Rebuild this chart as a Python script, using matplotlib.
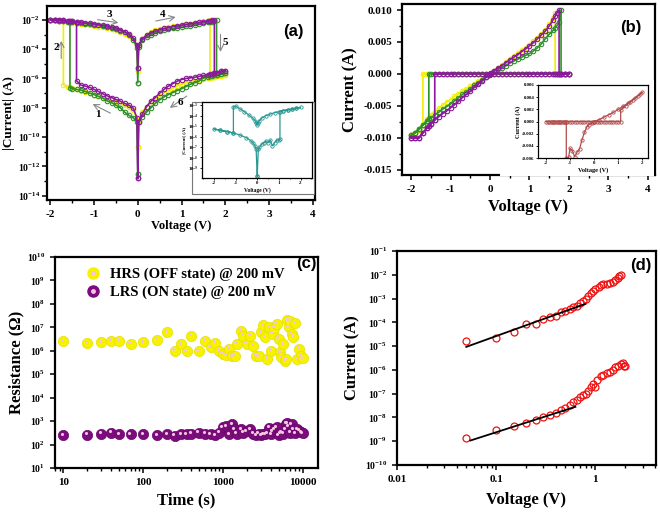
import numpy as np
import matplotlib
matplotlib.use('Agg')
import matplotlib.pyplot as plt
from matplotlib.ticker import FuncFormatter, FixedLocator, MultipleLocator, NullFormatter, LogLocator
from matplotlib.lines import Line2D
from matplotlib.patches import Rectangle
from matplotlib.transforms import offset_copy

plt.rcParams['font.family'] = ['Liberation Serif', 'DejaVu Serif']
plt.rcParams['font.weight'] = 'bold'
plt.rcParams['axes.labelweight'] = 'bold'
plt.rcParams['axes.unicode_minus'] = False
plt.rcParams['mathtext.fontset'] = 'custom'
plt.rcParams['mathtext.rm'] = 'Liberation Serif:bold'
plt.rcParams['mathtext.bf'] = 'Liberation Serif:bold'
plt.rcParams['mathtext.it'] = 'Liberation Serif:bold:italic'
plt.rcParams['axes.linewidth'] = 1.6

# ---- (a)/(b) I-V sweeps, |I| in A on shared voltage grids ----
V_NEG = [0, -0.02, -0.1, -0.2, -0.3, -0.4, -0.5, -0.6, -0.7, -0.8, -0.9, -1.0,
         -1.1, -1.2, -1.3, -1.4, -1.5, -1.55, -1.6, -1.7, -1.8, -1.9, -2.0]
V_POS = [0, 0.02, 0.1, 0.2, 0.3, 0.4, 0.5, 0.6, 0.7, 0.8, 0.9, 1.0,
         1.1, 1.2, 1.3, 1.4, 1.5, 1.6, 1.65, 1.7, 1.75, 1.8, 1.9, 2.0]

# yellow curve (set -1.7 V, reset 1.65 V)
y_hrs_neg = [2e-11, 2e-9, 7e-9, 1.1e-8, 1.5e-8, 2e-8, 2.5e-8, 3.2e-8, 4e-8, 5e-8, 6e-8, 8e-8,
             1e-7, 1.2e-7, 1.5e-7, 1.8e-7, 2.2e-7, 2.5e-7, 2.8e-7, 3.5e-7]
y_lrs_neg = [3e-6, 1.5e-4, 4e-4, 7.5e-4, 1.1e-3, 1.5e-3, 1.9e-3, 2.3e-3, 2.7e-3, 3.1e-3, 3.5e-3, 4e-3,
             4.4e-3, 4.9e-3, 5.4e-3, 5.9e-3, 6.4e-3, 6.7e-3, 7.1e-3, 8e-3, 8.8e-3, 9.3e-3, 9.6e-3]
y_lrs_pos = [3e-6, 1.8e-4, 5e-4, 9.5e-4, 1.4e-3, 1.9e-3, 2.4e-3, 2.8e-3, 3.3e-3, 3.7e-3, 4.1e-3, 4.6e-3,
             5.1e-3, 5.6e-3, 6.2e-3, 6.9e-3, 7.8e-3, 8.8e-3, 9.5e-3]
y_hrs_pos = [2e-11, 1.5e-9, 5e-9, 1.2e-8, 2.2e-8, 4e-8, 6.5e-8, 1e-7, 1.5e-7, 2.2e-7, 3e-7, 4e-7,
             5e-7, 6e-7, 7e-7, 8e-7, 9e-7, 1e-6, 1.1e-6, 1.2e-6, 1.3e-6, 1.4e-6, 1.5e-6, 1.6e-6]

# green curve (set -1.55 V, reset 1.8 V)
g_hrs_neg = [3e-13, 1e-9, 2e-9, 3e-9, 5e-9, 1e-8, 1.5e-8, 2.2e-8, 3e-8, 4.5e-8, 6e-8, 8e-8,
             1e-7, 1.3e-7, 1.6e-7, 1.8e-7, 2e-7, 2.2e-7]
g_lrs_neg = [5e-7, 1.2e-4, 4.5e-4, 9e-4, 1.4e-3, 1.8e-3, 2.3e-3, 2.8e-3, 3.2e-3, 3.7e-3, 4.2e-3, 4.7e-3,
             5.1e-3, 5.5e-3, 6e-3, 6.4e-3, 6.9e-3, 7.1e-3, 7.4e-3, 8e-3, 8.6e-3, 9.2e-3, 9.6e-3]
g_lrs_pos = [5e-7, 1.5e-4, 4e-4, 7e-4, 1e-3, 1.3e-3, 1.7e-3, 2e-3, 2.3e-3, 2.6e-3, 2.9e-3, 3.2e-3,
             3.6e-3, 4.1e-3, 4.7e-3, 5.5e-3, 6.2e-3, 6.8e-3, 7.2e-3, 7.6e-3, 8.2e-3, 1e-2]
g_hrs_pos = [3e-13, 1e-9, 2.5e-9, 5e-9, 1e-8, 2e-8, 3.5e-8, 5.5e-8, 8e-8, 1.1e-7, 1.5e-7, 2e-7,
             2.8e-7, 4e-7, 5.2e-7, 6.6e-7, 1.1e-6, 1.3e-6, 1.4e-6, 1.5e-6, 1.6e-6, 1.8e-6, 2e-6, 2.3e-6]

# purple curve (set -1.4 V, reset 1.75 V)
p_hrs_neg = [1.5e-13, 2e-9, 9e-9, 1.5e-8, 2e-8, 2.8e-8, 3.7e-8, 5e-8, 6.5e-8, 9e-8, 1.3e-7, 1.8e-7,
             2.5e-7, 3e-7, 3.5e-7, 7e-7]
p_lrs_neg = [5e-6, 1.8e-4, 5.5e-4, 1.1e-3, 1.6e-3, 2.1e-3, 2.7e-3, 3.2e-3, 3.7e-3, 4.3e-3, 4.8e-3, 5.3e-3,
             5.8e-3, 6.2e-3, 6.7e-3, 7.2e-3, 7.8e-3, 8.2e-3, 8.5e-3, 9.2e-3, 1e-2, 1e-2, 1e-2]
p_lrs_pos = [5e-6, 2e-4, 5e-4, 9e-4, 1.3e-3, 1.75e-3, 2.2e-3, 2.6e-3, 3e-3, 3.5e-3, 3.9e-3, 4.4e-3,
             4.9e-3, 5.5e-3, 6.1e-3, 6.7e-3, 7.5e-3, 8.5e-3, 9e-3, 9.6e-3, 1e-2]
p_hrs_pos = [1.5e-13, 1e-9, 3.5e-9, 1.2e-8, 2.8e-8, 5e-8, 1e-7, 1.8e-7, 3e-7, 4.5e-7, 6.5e-7, 8.5e-7,
             1e-6, 1.1e-6, 1.2e-6, 1.4e-6, 1.6e-6, 1.8e-6, 1.9e-6, 2e-6, 2.2e-6, 2.5e-6, 3e-6, 3.5e-6]

CURVES = [
    ('#f0f000', y_hrs_neg, y_lrs_neg, y_lrs_pos, y_hrs_pos),
    ('#2f922a', g_hrs_neg, g_lrs_neg, g_lrs_pos, g_hrs_pos),
    ('#8a1a9a', p_hrs_neg, p_lrs_neg, p_lrs_pos, p_hrs_pos),
]

# inset (a): |I| loop of a second device
ins_a_v = [0, 0.05, 0.1, 0.2, 0.3, 0.4, 0.5, 0.6, 0.7, 0.8, 0.9, 1.0, 1.05,
           1.05, 1.2, 1.4, 1.6, 1.8, 2.0,
           1.8, 1.6, 1.4, 1.2, 1.0, 0.8, 0.6, 0.4, 0.2, 0.1, 0.05, 0,
           -0.05, -0.1, -0.2, -0.4, -0.6, -0.8, -1.0, -1.1,
           -1.1, -1.4, -1.7, -2.0,
           -1.7, -1.4, -1.1, -0.8, -0.5, -0.3, -0.2, -0.1, -0.05, 0]
ins_a_i = [1.7e-10, 6.3e-8, 9.4e-8, 1.8e-7, 2.6e-7, 3.7e-7, 2.6e-7, 4.6e-7, 1.3e-7, 2.6e-7, 4.6e-7, 4.6e-7, 5.3e-7,
           2.4e-4, 3e-4, 3.5e-4, 4.2e-4, 5e-4, 6e-4,
           5e-4, 4.2e-4, 3.5e-4, 3e-4, 2.4e-4, 1.9e-4, 1.4e-4, 1e-4, 5.7e-5, 3.4e-5, 2.2e-5, 1.3e-5,
           2.2e-5, 3.4e-5, 5.7e-5, 1.2e-4, 2.4e-4, 4.5e-4, 8e-4, 7e-4,
           2.2e-6, 3e-6, 4e-6, 5.3e-6,
           4e-6, 3e-6, 2.2e-6, 1.4e-6, 7.7e-7, 4e-7, 2.6e-7, 1.3e-7, 6.3e-8, 1.7e-10]

# inset (b): signed I loop of a third device
ins_b_v = [0, 0.1, 0.2, 0.3, 0.4, 0.5, 0.6, 0.7, 0.8, 0.9, 1.0, 1.1,
           1.1, 1.3, 1.5, 1.7, 1.9, 2.0,
           1.8, 1.6, 1.4, 1.2, 1.0, 0.8, 0.6, 0.4, 0.2, 0,
           -0.1, -0.2, -0.3, -0.4, -0.5, -0.6, -0.7, -0.8, -0.9, -1.0, -1.05, -1.15,
           -1.15, -1.25, -1.35, -1.45, -1.55, -1.65, -1.75, -1.85, -2.0,
           -1.9, -1.8, -1.7, -1.6, -1.5, -1.4, -1.3, -1.2, -1.1, -1.0, -0.9, -0.8,
           -0.7, -0.6, -0.5, -0.4, -0.3, -0.2, -0.1, 0]
ins_b_i = [0, 0, 0, 0, 0, 0, 0, 0, 0, 0, 0, 0,
           0.0019, 0.0026, 0.0032, 0.0038, 0.0045, 0.0048,
           0.0042, 0.0036, 0.0030, 0.0025, 0.0020, 0.0015, 0.0011, 0.0007, 0.0003, 0,
           -0.0002, -0.0005, -0.0009, -0.0018, -0.0030, -0.0045, -0.0050, -0.0058, -0.0048, -0.0044, -0.0059, -0.0060,
           0, 0, 0, 0, 0, 0, 0, 0, 0,
           0, 0, 0, 0, 0, 0, 0, 0, 0, 0, 0, 0,
           0, 0, 0, 0, 0, 0, 0, 0]

# ---- (c) retention ----
time_s = [10, 20, 30, 40, 50, 70, 100, 150, 200, 250, 300, 350, 400, 500, 600, 700, 800, 900,
          1000, 1100, 1200, 1300, 1400, 1500, 1700, 1800, 2000, 2200, 2400, 2600, 2800, 3000,
          3200, 3400, 3600, 3800, 4000, 4200, 4400, 4700, 5000, 5200, 5400, 5700, 6000, 6200,
          6400, 6700, 7000, 7300, 7600, 8000, 8500, 9000, 9500, 10000]
r_hrs = [2.5e6, 2.1e6, 2.3e6, 2.7e6, 2.7e6, 2.0e6, 2.3e6, 2.9e6, 6.2e6, 1.0e6, 1.9e6, 9.4e5, 4.4e6, 9.4e5,
         2.7e6, 1.4e6, 2.2e6, 1.0e6, 7.5e5, 6.5e5, 1.2e6, 5.8e5, 6.1e5, 2.0e6, 7.2e6, 4.4e6, 2.0e6, 4.4e6,
         1.6e6, 6.1e5, 5.8e5, 6.2e6, 1.2e7, 3.7e6, 4.5e5, 1.0e7, 1.0e6, 5.2e6, 9.4e6, 1.4e7, 3.2e6, 8.5e5,
         5.2e5, 1.9e6, 3.7e5, 4.4e5, 2.0e7, 1.0e7, 1.9e7, 5.2e6, 4.0e6, 1.5e7, 4.4e5, 1.2e6, 6.0e5, 4.9e5]
r_lrs = [250, 260, 290, 320, 270, 270, 270, 250, 270, 240, 270, 270, 290, 320, 290, 270, 250, 320,
         550, 600, 270, 720, 440, 290, 440, 320, 370, 440, 290, 250, 290, 250, 270, 280, 300, 520,
         270, 370, 450, 550, 250, 300, 330, 290, 440, 770, 800, 600, 320, 720, 440, 300, 450, 380,
         330, 300]

# ---- (d) log-log fits ----
d_v = [0.05, 0.1, 0.15, 0.2, 0.25, 0.3, 0.35, 0.4, 0.45, 0.5, 0.55, 0.6, 0.65, 0.7, 0.75, 0.8,
       0.85, 0.9, 0.95, 1.0, 1.1, 1.15, 1.2, 1.3, 1.4, 1.5, 1.6, 1.7, 1.75, 1.8]
d_lrs = [1.7e-5, 2.1e-5, 3.9e-5, 8.9e-5, 8.3e-5, 1.35e-4, 1.6e-4, 1.9e-4, 2.6e-4, 3e-4, 3.6e-4, 4.3e-4,
         5e-4, 6.3e-4, 8.1e-4, 1e-3, 1.3e-3, 1.65e-3, 2e-3, 2.5e-3, 3.2e-3, 3.7e-3, 4e-3, 4.1e-3, 4.4e-3,
         5e-3, 6e-3, 7.5e-3, 8.5e-3, 9.5e-3]
d_v2 = [0.05, 0.1, 0.15, 0.2, 0.25, 0.3, 0.35, 0.4, 0.45, 0.5, 0.55, 0.6, 0.65, 0.7, 0.75, 0.8,
        0.85, 0.9, 0.95, 1.0, 1.05, 1.15, 1.2, 1.3, 1.4, 1.5, 1.6, 1.7, 1.8, 1.9, 1.95, 2.0]
d_hrs = [1.4e-9, 2.9e-9, 4.4e-9, 5.9e-9, 7.6e-9, 1e-8, 1.26e-8, 1.6e-8, 2e-8, 2.5e-8, 3.3e-8, 4.6e-8,
         5.4e-8, 7.4e-8, 8.7e-8, 1e-7, 1.3e-7, 1.9e-7, 2.6e-7, 1.9e-7, 3.8e-7, 5.3e-7, 6.3e-7, 7.3e-7,
         8.5e-7, 1e-6, 1.3e-6, 1.5e-6, 1.8e-6, 2e-6, 1.5e-6, 1.4e-6]
fit_lrs_v = [0.05, 0.79]
fit_lrs_i = [9.3e-6, 5.9e-4]
fit_hrs_v = [0.055, 0.63]
fit_hrs_i = [1.07e-9, 2.8e-8]


def build_loop(hrs_neg, lrs_neg, lrs_pos, hrs_pos):
    ns = len(hrs_neg)
    nr = len(lrs_pos)
    v = V_NEG[:ns] + V_NEG[ns - 1:] + V_NEG[::-1] + V_POS[:nr] + V_POS[nr - 1:] + V_POS[::-1]
    i = hrs_neg + lrs_neg[ns - 1:] + lrs_neg[::-1] + lrs_pos + hrs_pos[nr - 1:] + hrs_pos[::-1]
    return np.array(v), np.array(i)


def pow10(v, pos):
    return r'$\mathbf{10^{%d}}$' % int(round(np.log10(v)))


def panel_tag(ax, s, x, y):
    ax.text(x, y, s, transform=ax.transAxes, family='Liberation Sans', weight='bold',
            fontsize=12, ha='center', va='center')


fig = plt.figure(figsize=(6.6, 5.12), dpi=100)
W, H = 660.0, 512.0


def px_axes(l, t, r, b, **kw):
    return fig.add_axes([l / W, 1 - b / H, (r - l) / W, (b - t) / H], **kw)


# ---------------- (a) ----------------
ax = px_axes(47, 6, 315, 200)
for col, hn, ln, lp, hp in CURVES:
    v, i = build_loop(hn, ln, lp, hp)
    ax.plot(v, i, '-o', color=col, ms=3.2, mfc='none', mew=0.8, lw=1.2)
ax.set_yscale('log')
ax.set_xlim(-2.075, 4.05)
ax.set_ylim(10 ** -14.3, 10 ** -1.05)
ax.yaxis.set_major_locator(FixedLocator([10.0 ** k for k in range(-14, -1, 2)]))
ax.yaxis.set_minor_locator(FixedLocator([10.0 ** k for k in range(-13, -1, 2)]))
ax.yaxis.set_major_formatter(FuncFormatter(pow10))
ax.yaxis.set_minor_formatter(NullFormatter())
ax.xaxis.set_major_locator(MultipleLocator(1))
ax.xaxis.set_minor_locator(MultipleLocator(0.5))
ax.tick_params(axis='x', labelsize=8)
ax.tick_params(axis='y', labelsize=7, pad=1.5)
ax.tick_params(direction='out', length=3.5, width=1.1)
ax.tick_params(which='minor', length=2, width=1)
ax.set_xlabel('Voltage (V)', fontsize=9, labelpad=1)
ax.set_ylabel('|Current| (A)', fontsize=9.5)
ax.yaxis.set_label_coords(-0.12, 0.45)
panel_tag(ax, '(a)', 0.92, 0.866)

arr = dict(arrowstyle='->', color='#888888', lw=0.8)
ax.annotate('', xy=(-0.38, 6e-3), xytext=(-0.98, 1.1e-2), arrowprops=arr)
ax.text(-0.64, 2.2e-2, '3', fontsize=8, ha='center', va='center')
ax.annotate('', xy=(0.93, 1.7e-2), xytext=(0.35, 7.7e-3), arrowprops=arr)
ax.text(0.58, 2.2e-2, '4', fontsize=8, ha='center', va='center')
ax.annotate('', xy=(-1.75, 5.7e-4), xytext=(-1.75, 1.5e-5), arrowprops=arr)
ax.text(-1.86, 1.3e-4, '2', fontsize=8, ha='center', va='center')
ax.annotate('', xy=(1.89, 4.2e-5), xytext=(1.89, 1.6e-3), arrowprops=arr)
ax.text(2.0, 2.9e-4, '5', fontsize=8, ha='center', va='center')
ax.annotate('', xy=(-1.09, 2.2e-8), xytext=(-0.57, 3.5e-9), arrowprops=arr)
ax.text(-0.91, 3.5e-9, '1', fontsize=8, ha='center', va='center')
ax.annotate('', xy=(0.68, 7.6e-9), xytext=(1.17, 8.1e-8), arrowprops=arr)
ax.text(0.98, 2.2e-8, '6', fontsize=8, ha='center', va='center')

# inset (a)
fig.patches.append(Rectangle((192 / W, 1 - 194 / H), 122 / W, 92 / H, transform=fig.transFigure,
                             facecolor='white', edgecolor='#777777', lw=0.8, zorder=1))
axi = px_axes(202, 102, 312, 178)
axi.set_zorder(2)
axi.plot(ins_a_v, ins_a_i, '-o', color='#2a9892', ms=2.4, mfc='none', mew=0.6, lw=0.9)
axi.set_yscale('log')
axi.set_xlim(-2.55, 2.53)
axi.set_ylim(1.1e-10, 2e-3)
axi.yaxis.set_major_locator(FixedLocator([10.0 ** k for k in range(-10, -2)]))
axi.yaxis.set_minor_locator(FixedLocator([]))
axi.yaxis.set_major_formatter(FuncFormatter(pow10))
axi.xaxis.set_major_locator(MultipleLocator(1))
axi.xaxis.set_minor_locator(MultipleLocator(0.5))
axi.tick_params(labelsize=3.5, length=1.5, width=0.6, pad=1)
axi.tick_params(which='minor', length=1, width=0.5)
for s in axi.spines.values():
    s.set_linewidth(0.9)
axi.set_xlabel('Voltage (V)', fontsize=4, labelpad=1)
axi.set_ylabel('|Current| (A)', fontsize=3.5, labelpad=1)

# ---------------- (b) ----------------
bx = px_axes(402, 4, 655, 175)
for col, hn, ln, lp, hp in CURVES:
    v, i = build_loop(hn, ln, lp, hp)
    bx.plot(v, np.where(v < 0, -i, i), '-o', color=col, ms=3.2, mfc='none', mew=0.8, lw=1.2)
bx.set_xlim(-2.23, 4.18)
bx.set_ylim(-0.0158, 0.01094)
bx.xaxis.set_major_locator(MultipleLocator(1))
bx.xaxis.set_minor_locator(MultipleLocator(0.5))
bx.yaxis.set_major_locator(FixedLocator([-0.015, -0.01, -0.005, 0, 0.005, 0.01]))
bx.yaxis.set_minor_locator(MultipleLocator(0.0025))
bx.yaxis.set_major_formatter(FuncFormatter(lambda v, p: '%.3f' % v))
bx.tick_params(labelsize=8, direction='out', length=3.5, width=1.1)
bx.tick_params(which='minor', length=2, width=1)
bx.set_xlabel('Voltage (V)', fontsize=12, labelpad=4)
bx.set_ylabel('Current (A)', fontsize=12, labelpad=4)
panel_tag(bx, '(b)', 0.905, 0.86)

fig.patches.append(Rectangle((500 / W, 1 - 176 / H), 154 / W, 96 / H, transform=fig.transFigure,
                             facecolor='white', edgecolor='none', zorder=1))
bxi = px_axes(538, 85, 648, 158)
bxi.set_zorder(2)
bxi.plot(ins_b_v, ins_b_i, '-o', color='#b24c4c', ms=2.4, mfc='none', mew=0.6, lw=0.9)
bxi.set_xlim(-2.32, 2.23)
bxi.set_ylim(-0.006, 0.006)
bxi.xaxis.set_major_locator(MultipleLocator(1))
bxi.xaxis.set_minor_locator(MultipleLocator(0.5))
bxi.yaxis.set_major_locator(MultipleLocator(0.002))
bxi.yaxis.set_major_formatter(FuncFormatter(lambda v, p: '%.3f' % v))
bxi.tick_params(labelsize=3.5, length=1.5, width=0.6, pad=1)
bxi.tick_params(which='minor', length=1, width=0.5)
for s in bxi.spines.values():
    s.set_linewidth(0.9)
bxi.set_xlabel('Voltage (V)', fontsize=4.5, labelpad=1)
bxi.set_ylabel('Current (A)', fontsize=4.5, labelpad=1)

# ---------------- (c) ----------------
cx = px_axes(55, 257, 318, 468)
hi = offset_copy(cx.transData, fig=fig, x=-1.5, y=1.5, units='dots')
cx.scatter(time_s, r_hrs, s=55, color='#f6f200', edgecolors='#e6e000', linewidths=0.5, zorder=3)
cx.scatter(time_s, r_hrs, s=5, color='#f3c6de', linewidths=0, zorder=4, transform=hi)
cx.scatter(time_s, r_lrs, s=55, color='#7c0c7e', edgecolors='#6a066c', linewidths=0.5, zorder=3)
cx.scatter(time_s, r_lrs, s=5, color='#f3c6de', linewidths=0, zorder=4, transform=hi)
cx.set_xscale('log')
cx.set_yscale('log')
cx.set_xlim(7.9, 15500)
cx.set_ylim(10, 1e10)
cx.xaxis.set_major_locator(FixedLocator([10, 100, 1000, 10000]))
cx.xaxis.set_major_formatter(FuncFormatter(lambda v, p: '%d' % v))
cx.xaxis.set_minor_locator(LogLocator(subs=np.arange(2, 10)))
cx.xaxis.set_minor_formatter(NullFormatter())
cx.yaxis.set_major_locator(FixedLocator([10.0 ** k for k in range(1, 11)]))
cx.yaxis.set_minor_locator(FixedLocator([]))
cx.yaxis.set_major_formatter(FuncFormatter(pow10))
cx.tick_params(axis='x', labelsize=8)
cx.tick_params(axis='y', labelsize=7)
cx.tick_params(direction='out', length=3.5, width=1.1)
cx.tick_params(which='minor', length=2, width=1)
cx.set_xlabel('Time (s)', fontsize=12, labelpad=4)
cx.set_ylabel('Resistance (Ω)', fontsize=12, labelpad=2)
h_off = (Line2D([], [], ls='none', marker='o', ms=8, color='#f6f200'),
         Line2D([], [], ls='none', marker='o', ms=2.5, color='#f3c6de'))
h_on = (Line2D([], [], ls='none', marker='o', ms=8, color='#7c0c7e'),
        Line2D([], [], ls='none', marker='o', ms=2.5, color='#f3c6de'))
cx.legend([h_off, h_on], ['HRS (OFF state) @ 200 mV', 'LRS (ON state) @ 200 mV'],
          loc='upper left', bbox_to_anchor=(0.06, 1.01), frameon=False, fontsize=10.5,
          handletextpad=0.6, labelspacing=0.3, handlelength=1.2)
panel_tag(cx, '(c)', 0.955, 0.97)

# ---------------- (d) ----------------
dx = px_axes(397, 251, 656, 465)
dx.plot(d_v, d_lrs, 'o', color='#ee1111', ms=5, mfc='none', mew=0.9)
dx.plot(d_v2, d_hrs, 'o', color='#ee1111', ms=5, mfc='none', mew=0.9)
dx.plot(fit_lrs_v, fit_lrs_i, '-', color='black', lw=1.3)
dx.plot(fit_hrs_v, fit_hrs_i, '-', color='black', lw=1.3)
dx.set_xscale('log')
dx.set_yscale('log')
dx.set_xlim(0.01, 4.1)
dx.set_ylim(1e-10, 1e-1)
dx.xaxis.set_major_locator(FixedLocator([0.01, 0.1, 1]))
dx.xaxis.set_major_formatter(FuncFormatter(lambda v, p: '%g' % v))
dx.xaxis.set_minor_locator(LogLocator(subs=np.arange(2, 10)))
dx.xaxis.set_minor_formatter(NullFormatter())
dx.yaxis.set_major_locator(FixedLocator([10.0 ** k for k in range(-10, 0)]))
dx.yaxis.set_minor_locator(FixedLocator([]))
dx.yaxis.set_major_formatter(FuncFormatter(pow10))
dx.tick_params(axis='x', labelsize=8)
dx.tick_params(axis='y', labelsize=7)
dx.tick_params(direction='out', length=3.5, width=1.1)
dx.tick_params(which='minor', length=2, width=1)
dx.set_xlabel('Voltage (V)', fontsize=12, labelpad=6)
dx.set_ylabel('Current (A)', fontsize=12, labelpad=3)
panel_tag(dx, '(d)', 0.94, 0.93)

fig.savefig('out.png', dpi=100)
